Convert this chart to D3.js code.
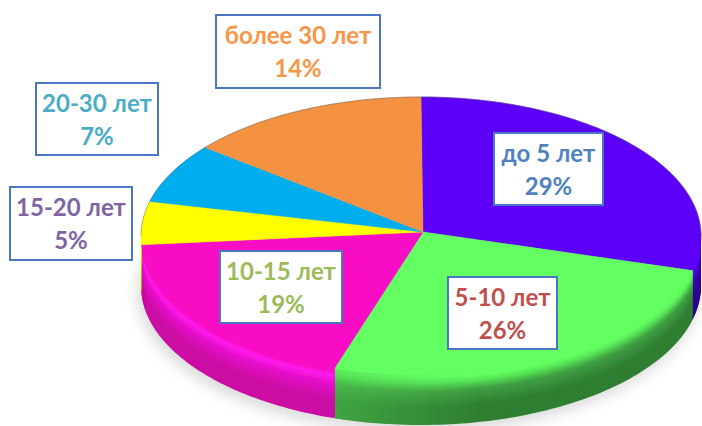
<!DOCTYPE html>
<html><head><meta charset="utf-8">
<style>html,body{margin:0;padding:0;background:#fff}svg{display:block}</style>
<script src="https://cdn.jsdelivr.net/npm/d3@7/dist/d3.min.js"></script>
</head><body><svg id="c" width="702" height="426"></svg>
<script>
const categories = ["до 5 лет","5-10 лет","10-15 лет","15-20 лет","20-30 лет","более 30 лет"];
const values = [29,26,19,5,7,14];
const faceColors = ["#5c00fa","#64ff62","#f90cc4","#ffff00","#00aeef","#f59243"];
const bevelColors = ["#5200e0","#58e858","#ff1cec","#e8e800","#0098d0","#e08438"];
const midColors  = ["#3c00b8","#3f9f42","#e40cc8","#d0d000","#0088b8","#c87a30"];
const sideColors = ["#2c0090","#2f7f32","#cc09a4","#b0b000","#007aa0","#a86020"];
const textColors = ["#4f81bd","#c0504d","#9bbb59","#8064a2","#4bacc6","#f79646"];
const labelBoxes = [[494,133,109,72],[448,277,109,72],[220,251,122,72],[10,187,122,73],[36,83,122,72],[216,15,164,73]];

const svg = d3.select("#c");
const x = d3.scaleLinear().domain([-1,1]).range([141,701]);
const y = d3.scaleLinear().domain([-1,1]).range([97,375]);
const apexU = [0.007,-0.029];
const depth = 50;
const pieData = d3.pie().sort(null).value(d=>d)(values);
const rim = (a,off=0)=>[x(Math.sin(a)), y(-Math.cos(a))+off];
const samples = (a0,a1)=>{const n=Math.max(2,Math.ceil((a1-a0)/0.02));return d3.range(n+1).map(i=>a0+(a1-a0)*i/n);};
const line = d3.line();

const defs = svg.append("defs");
defs.append("filter").attr("id","shadow").attr("x","-20%").attr("y","-20%").attr("width","140%").attr("height","140%")
  .append("feGaussianBlur").attr("stdDeviation",7);
defs.append("filter").attr("id","soft").attr("x","-5%").attr("y","-5%").attr("width","110%").attr("height","110%")
  .append("feGaussianBlur").attr("stdDeviation",0.6);
const lighten = defs.append("linearGradient").attr("id","lighten").attr("gradientUnits","userSpaceOnUse")
  .attr("x1",x(-0.35)).attr("x2",x(0.2)).attr("y1",0).attr("y2",0);
lighten.append("stop").attr("offset",0).attr("stop-color","#52d052").attr("stop-opacity",0.85);
lighten.append("stop").attr("offset",1).attr("stop-color","#52d052").attr("stop-opacity",0);

// soft ground shadow
svg.append("ellipse").attr("cx",x(0)-3).attr("cy",y(0)+depth+6).attr("rx",(x(1)-x(-1))/2+1).attr("ry",(y(1)-y(-1))/2+1)
  .attr("fill","#999").attr("opacity",0.35).attr("filter","url(#shadow)");

const pie3d = svg.append("g").attr("filter","url(#soft)");
const band = (a0,a1,d)=>{
  const top = samples(a0,a1).map(a=>rim(a,-1));
  const bot = samples(a0,a1).reverse().map(a=>rim(a,d));
  return line(top.concat(bot))+"Z";
};
// rim sides: nested bands from the bottom edge up to the face
pieData.forEach((p,i)=>{
  const a0=Math.max(p.startAngle,Math.PI/2), a1=Math.min(p.endAngle,Math.PI*1.5);
  if(a1<=a0) return;
  const t = d3.scaleLinear().domain([0,0.06,0.16,0.34,0.65,1])
    .range([faceColors[i],faceColors[i],bevelColors[i],midColors[i],sideColors[i],sideColors[i]])
    .interpolate(d3.interpolateRgb);
  const g = pie3d.append("g");
  d3.range(depth,0,-1).forEach(d=>{
    g.append("path").attr("d",band(a0,a1,d)).attr("fill",t(d/depth));
  });
  if(i===1){
    g.append("path").attr("d",band(a0,a1,depth)).attr("fill","url(#lighten)").attr("opacity",0.6);
  }
});
// faces
pie3d.selectAll("path.face").data(pieData).join("path").attr("class","face")
  .attr("d",(p,i)=>{
    const pts = samples(p.startAngle,p.endAngle).map(a=>rim(a));
    return line([[x(apexU[0]),y(apexU[1])]].concat(pts))+"Z";
  })
  .attr("fill",(p,i)=>faceColors[i]).attr("stroke",(p,i)=>faceColors[i]).attr("stroke-width",0.5);
// top rim hairline
pie3d.append("path").attr("d",line(samples(Math.PI*1.5,Math.PI*2.5).map(a=>rim(a))))
  .attr("fill","none").attr("stroke","#555").attr("stroke-opacity",0.45).attr("stroke-width",1);

// labels
const lab = svg.append("g").selectAll("g").data(categories).join("g");
lab.append("rect")
  .attr("x",(d,i)=>labelBoxes[i][0]).attr("y",(d,i)=>labelBoxes[i][1])
  .attr("width",(d,i)=>labelBoxes[i][2]).attr("height",(d,i)=>labelBoxes[i][3])
  .attr("fill","#fff").attr("stroke","#4a76c4").attr("stroke-width",2);
const font = "Lato, 'Open Sans', 'Noto Sans', sans-serif";
lab.append("text")
  .attr("x",(d,i)=>labelBoxes[i][0]+labelBoxes[i][2]/2).attr("y",(d,i)=>labelBoxes[i][1]+29)
  .attr("text-anchor","middle").attr("font-family",font).attr("font-weight",700).attr("font-size",24)
  .attr("fill",(d,i)=>textColors[i]).text(d=>d);
lab.append("text")
  .attr("x",(d,i)=>labelBoxes[i][0]+labelBoxes[i][2]/2).attr("y",(d,i)=>labelBoxes[i][1]+62)
  .attr("text-anchor","middle").attr("font-family",font).attr("font-weight",700).attr("font-size",24)
  .attr("fill",(d,i)=>textColors[i]).text((d,i)=>values[i]+"%");
</script></body></html>
